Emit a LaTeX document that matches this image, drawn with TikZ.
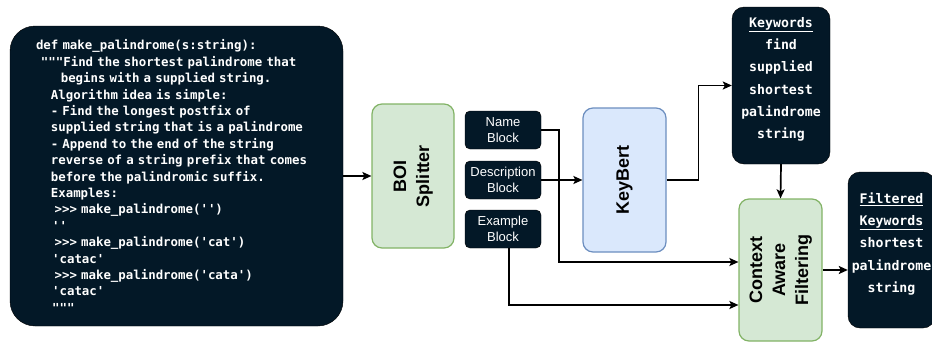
\documentclass[tikz,border=0pt]{standalone}
\usepackage{fontspec}
\setmainfont{Liberation Sans}
\setmonofont{DejaVu Sans Mono}
\usepackage{tikz}
\usetikzlibrary{arrows.meta,calc,positioning}
\definecolor{navy}{HTML}{031827}
\definecolor{splitfill}{HTML}{D5E8D4}
\definecolor{splitline}{HTML}{82B366}
\definecolor{bertfill}{HTML}{DAE8FC}
\definecolor{bertline}{HTML}{6C8EBF}
\newcommand{\ind}[1]{\hspace*{#1em}}

\begin{document}
\begin{tikzpicture}[x=1pt, y=-1pt,
  darkbox/.style={draw=black, fill=navy, text=white, align=center, inner sep=0pt},
  blockbox/.style={darkbox, rounded corners=5pt, minimum width=76pt, minimum height=38pt,
    font=\fontsize{13}{16.5}\selectfont},
  wordbox/.style={darkbox, rounded corners=12pt, font=\ttfamily\bfseries\fontsize{13.2}{22.3}\selectfont},
  stage/.style={draw, line width=1.2pt, rounded corners=10pt, inner sep=0pt,
    font=\bfseries\fontsize{18}{23}\selectfont},
  arr/.style={-{Stealth[length=9pt, width=8pt, inset=2pt]}, line width=1.7pt}]
\useasboundingbox (0,0) rectangle (932,341);
\clip (0,0) rectangle (932,341);

% input prompt
\node[darkbox, rounded corners=25pt, minimum width=333pt, minimum height=300pt,
  text width=281pt, inner xsep=26pt, align=left,
  font=\ttfamily\bfseries\fontsize{12.4}{16.4}\selectfont] (code) at (176.5,176) {%
def make\_palindrome(s:string):\\
\ind{0.4}"""Find the shortest palindrome that\\
\ind{2}begins with a supplied string.\\
\ind{1.2}Algorithm idea is simple:\\
\ind{1.2}- Find the longest postfix of\\
\ind{1.2}supplied string that is a palindrome\\
\ind{1.2}- Append to the end of the string\\
\ind{1.2}reverse of a string prefix that comes\\
\ind{1.2}before the palindromic suffix.\\
\ind{1.2}Examples:\\
\ind{1.5}>>> make\_palindrome('')\\
\ind{1.3}''\\
\ind{1.5}>>> make\_palindrome('cat')\\
\ind{1.3}'catac'\\
\ind{1.5}>>> make\_palindrome('cata')\\
\ind{1.3}'catac'\\
\ind{1.3}"""};

% splitter and blocks
\node[stage, draw=splitline, fill=splitfill, minimum width=82pt, minimum height=144pt]
  (boi) at (413,176) {\rotatebox{90}{\begin{tabular}{@{}c@{}}BOI\\Splitter\end{tabular}}};
\node[blockbox] (name) at (503,130) {Name\\Block};
\node[blockbox] (desc) at (503,180) {Description\\Block};
\node[blockbox] (example) at (503,229) {Example\\Block};

% keyword extraction
\node[stage, draw=bertline, fill=bertfill, minimum width=83pt, minimum height=144pt]
  (keybert) at (624.5,180) {\rotatebox{90}{KeyBert}};
\node[wordbox, minimum width=98pt, minimum height=157pt] (keywords) at (781,85.5)
  {\underline{Keywords}\\find\\supplied\\shortest\\palindrome\\string\\[-7pt]\mbox{}};

% filtering
\node[stage, draw=splitline, fill=splitfill, minimum width=83pt, minimum height=142pt]
  (caf) at (780.5,270) {\rotatebox{90}{\begin{tabular}{@{}c@{}}Context\\Aware\\Filtering\end{tabular}}};
\node[wordbox, minimum width=87pt, minimum height=156pt] (filtered) at (891.5,250)
  {\underline{Filtered}\\\underline{Keywords}\\shortest\\palindrome\\string\\[-7pt]\mbox{}};

% connectors
\draw[arr] (code.east) -- (boi.west);
\draw[arr] (desc.east) -- (keybert.west);
\draw[arr] (name.east) -- ++(18,0) |- ([yshift=8pt]caf.west);
\draw[arr] ([xshift=6pt]example.south) |- ([yshift=-35pt]caf.west);
\draw[arr] (keybert.east) -- ++(32,0) |- (keywords.west);
\draw[arr] (keywords.south) -- (caf.north);
\draw[arr] (caf.east) -- (caf.east -| filtered.west);
\end{tikzpicture}
\end{document}
